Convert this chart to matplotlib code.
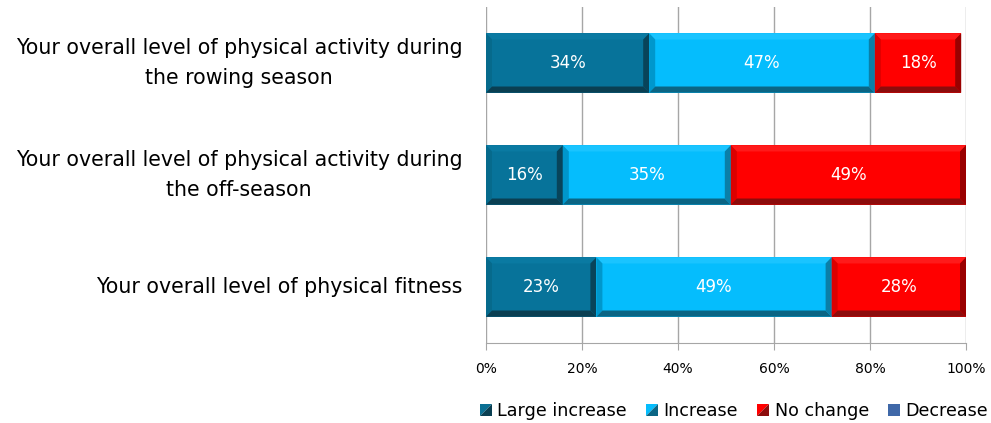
import numpy as np
import matplotlib.pyplot as plt
from matplotlib.patches import Polygon, Rectangle
from matplotlib.legend_handler import HandlerBase

categories = [
    "Your overall level of physical activity during\nthe rowing season",
    "Your overall level of physical activity during\nthe off-season",
    "Your overall level of physical fitness",
]
series = ["Large increase", "Increase", "No change", "Decrease"]
large_increase = [34, 16, 23]
increase = [47, 35, 49]
no_change = [18, 49, 28]
decrease = [0, 0, 0]
values = [large_increase, increase, no_change, decrease]

# face, top, left, bottom, right shades for each series
shades = [
    ("#07739a", "#0a7aa2", "#066a8c", "#0a3f52", "#08445a"),
    ("#05bdfd", "#1ac4ff", "#0097cc", "#0b6584", "#0a7fa8"),
    ("#ff0000", "#ff1a1a", "#dc0000", "#8c0c0c", "#9a0000"),
    ("#3f68a8", "#4a72b0", "#355c98", "#2a4a7c", "#2f5288"),
]

fig = plt.figure(figsize=(9.91, 4.23), dpi=100)
ax = fig.add_axes([486 / 991, 80 / 423, 480 / 991, 336 / 423])

n = len(categories)
ypos = np.arange(n)[::-1].astype(float)
bar_h = 0.53
bx, by = 1.25, 0.055


def bevel_bar(x0, x1, yc, cols):
    face, top, left, bottom, right = cols
    y0, y1 = yc - bar_h / 2, yc + bar_h / 2
    w = min(bx, (x1 - x0) / 2)
    ax.add_patch(Rectangle((x0, y0), x1 - x0, y1 - y0, fc=face, ec="none", zorder=3))
    quads = [
        ([(x0, y1), (x1, y1), (x1 - w, y1 - by), (x0 + w, y1 - by)], top),
        ([(x0, y0), (x0 + w, y0 + by), (x0 + w, y1 - by), (x0, y1)], left),
        ([(x0, y0), (x1, y0), (x1 - w, y0 + by), (x0 + w, y0 + by)], bottom),
        ([(x1, y0), (x1, y1), (x1 - w, y1 - by), (x1 - w, y0 + by)], right),
    ]
    for pts, c in quads:
        ax.add_patch(Polygon(pts, closed=True, fc=c, ec="none", zorder=3))


for i in range(n):
    left_edge = 0
    for s, vals in enumerate(values):
        v = vals[i]
        if v <= 0:
            continue
        bevel_bar(left_edge, left_edge + v, ypos[i], shades[s])
        ax.text(left_edge + v / 2, ypos[i], f"{v}%", ha="center", va="center",
                color="white", fontsize=12, zorder=4)
        left_edge += v

ax.set_xlim(0, 100)
ax.set_ylim(-0.5, n - 0.5)
ax.set_xticks(np.arange(0, 101, 20))
ax.set_xticklabels([f"{t}%" for t in range(0, 101, 20)], fontsize=10)
ax.set_yticks(ypos)
ax.set_yticklabels(categories, fontsize=14.8, multialignment="center",
                   linespacing=1.6)
for lbl in ax.get_yticklabels():
    lbl.set_va("center")
ax.tick_params(axis="y", length=0, pad=17)
ax.tick_params(axis="x", length=5, color="#a6a6a6", pad=9)
ax.xaxis.grid(True, color="#a6a6a6", lw=1)
ax.set_axisbelow(True)
for side in ["top", "right", "left"]:
    ax.spines[side].set_visible(False)
ax.spines["bottom"].set_color("#a6a6a6")


class SplitSquare(HandlerBase):
    def __init__(self, light, dark, split=True):
        super().__init__()
        self.light, self.dark, self.split = light, dark, split

    def create_artists(self, legend, orig_handle, xdescent, ydescent,
                       width, height, fontsize, trans):
        s = height * 1.0
        x0 = width - s - xdescent
        y0 = -ydescent + (height - s) / 2
        if not self.split:
            return [Rectangle((x0, y0), s, s, fc=self.light, ec="none", transform=trans)]
        up = Polygon([(x0, y0), (x0, y0 + s), (x0 + s, y0 + s)], closed=True,
                     fc=self.light, ec="none", transform=trans)
        lo = Polygon([(x0, y0), (x0 + s, y0), (x0 + s, y0 + s)], closed=True,
                     fc=self.dark, ec="none", transform=trans)
        return [up, lo]


handles = [Rectangle((0, 0), 1, 1) for _ in series]
handler_map = {
    handles[0]: SplitSquare("#0a6f93", "#0a3f52"),
    handles[1]: SplitSquare("#05bdfd", "#0b6584"),
    handles[2]: SplitSquare("#ff0000", "#8c0c0c"),
    handles[3]: SplitSquare("#3f68a8", "#3f68a8", split=False),
}
fig.legend(handles, series, handler_map=handler_map, loc="center",
           bbox_to_anchor=(733 / 991, 1 - 411 / 423), ncol=4, frameon=False,
           fontsize=12.6, handlelength=0.8, handletextpad=0.3, columnspacing=1.0)

fig.savefig("out.png", dpi=100)
